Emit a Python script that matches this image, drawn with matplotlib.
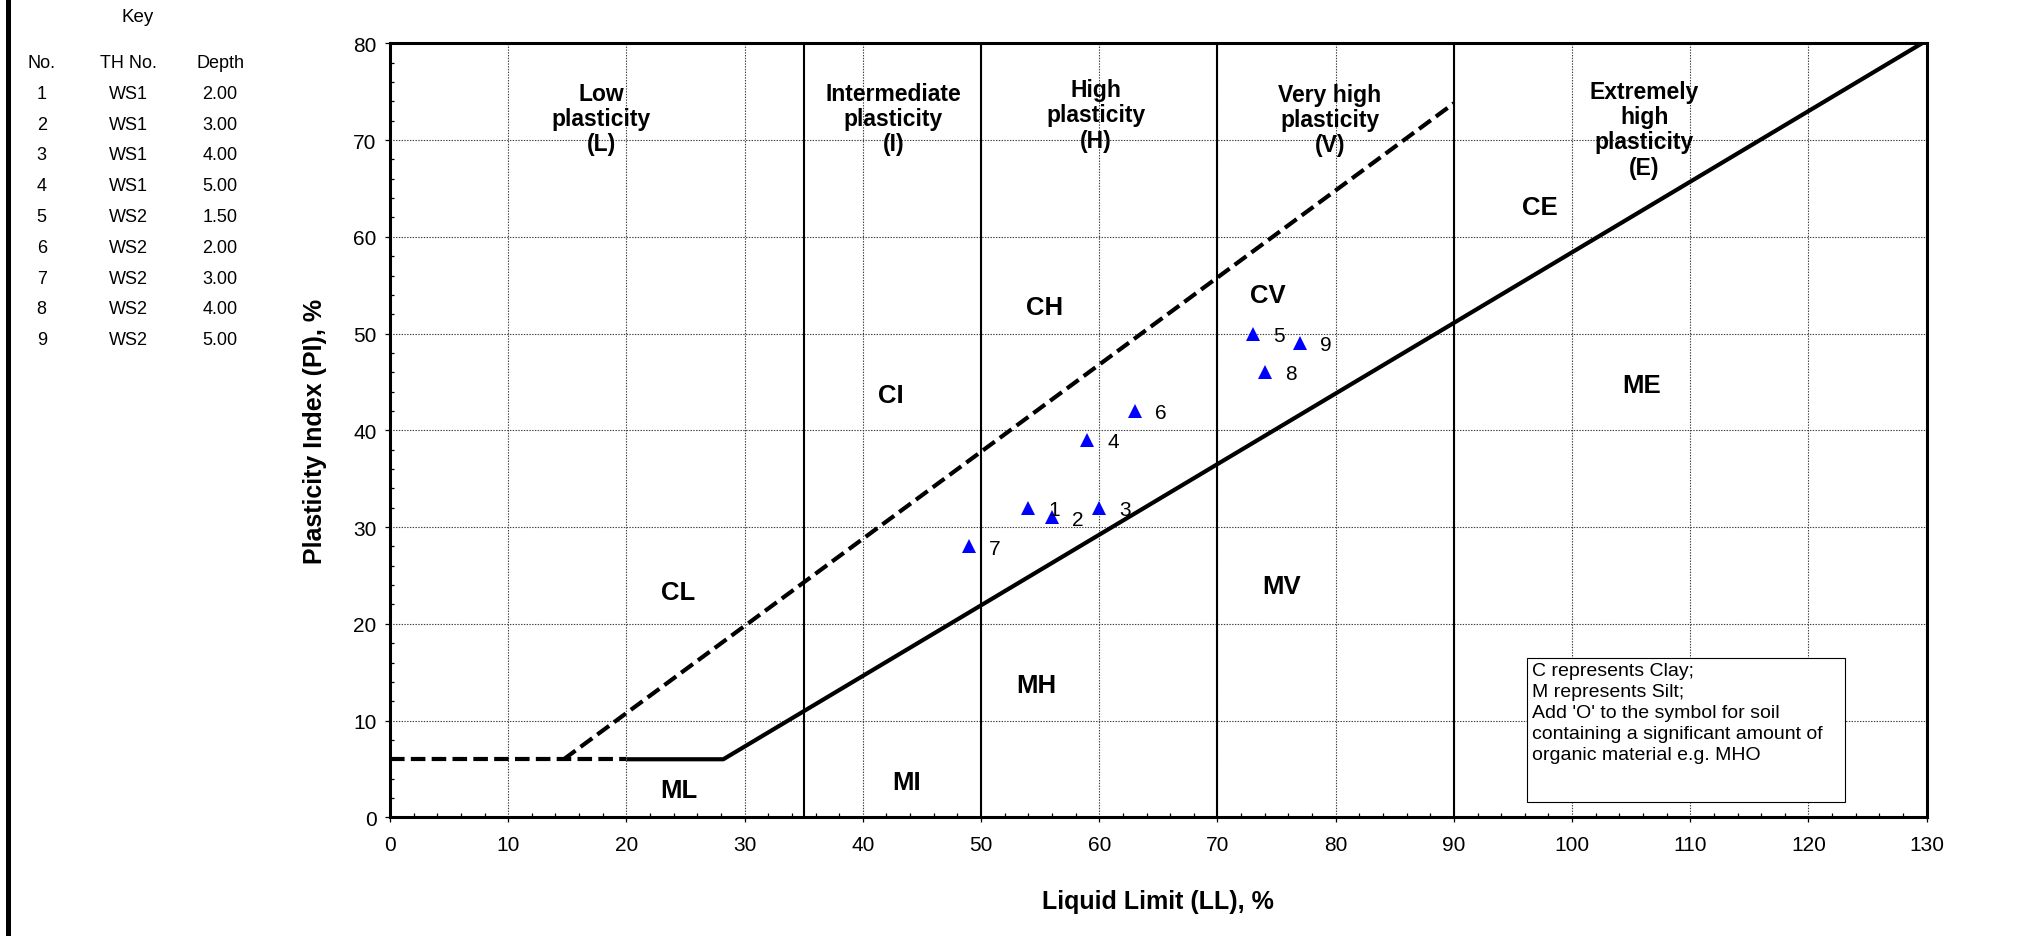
import matplotlib
matplotlib.use("Agg")
import matplotlib.pyplot as plt
from matplotlib.patches import Rectangle
from matplotlib.ticker import MultipleLocator

plt.rcParams['font.family'] = ['Liberation Sans', 'DejaVu Sans']
plt.rcParams['lines.scale_dashes'] = False

# --- sample key ---
sample_no = [1, 2, 3, 4, 5, 6, 7, 8, 9]
borehole = ['WS1', 'WS1', 'WS1', 'WS1', 'WS2', 'WS2', 'WS2', 'WS2', 'WS2']
depth = ['2.00', '3.00', '4.00', '5.00', '1.50', '2.00', '3.00', '4.00', '5.00']

# --- test results ---
liquid_limit = [54, 56, 60, 59, 73, 63, 49, 74, 77]
plasticity_index = [32, 31, 32, 39, 50, 42, 28, 46, 49]

# --- chart boundaries ---
zone_bounds = [35, 50, 70, 90]
a_line_ll = [20, 28.2, 129.6]
a_line_pi = [6, 6, 80]
u_line_ll = [14.7, 90]
u_line_pi = [6, 73.8]
low_ll = [0, 20]
low_pi = [6, 6]

plasticity_labels = ['Low\nplasticity\n(L)', 'Intermediate\nplasticity\n(I)',
                     'High\nplasticity\n(H)', 'Very high\nplasticity\n(V)',
                     'Extremely\nhigh\nplasticity\n(E)']
plasticity_ll = [17.9, 42.6, 59.7, 79.5, 106.1]
plasticity_pi = [72.2, 72.2, 72.6, 72.1, 71.1]

soil_symbols = ['CL', 'ML', 'CI', 'MI', 'CH', 'MH', 'CV', 'MV', 'CE', 'ME']
symbol_ll = [24.4, 24.4, 42.4, 43.7, 55.4, 54.7, 74.3, 75.4, 97.3, 105.9]
symbol_pi = [23.3, 2.8, 43.6, 3.7, 52.7, 13.7, 54.0, 23.9, 63.1, 44.7]

note_text = ("C represents Clay;\nM represents Silt;\nAdd 'O' to the symbol for soil\n"
             "containing a significant amount of\norganic material e.g. MHO")

W, H = 2038, 937
fig = plt.figure(figsize=(W / 100, H / 100), dpi=100)
ax_left, ax_right, ax_top, ax_bottom = 390, 1926.7, 44.3, 818.3
ax = fig.add_axes([ax_left / W, 1 - ax_bottom / H, (ax_right - ax_left) / W,
                   (ax_bottom - ax_top) / H])

ax.set_xlim(0, 130)
ax.set_ylim(0, 80)
ax.xaxis.set_major_locator(MultipleLocator(10))
ax.xaxis.set_minor_locator(MultipleLocator(2))
ax.yaxis.set_major_locator(MultipleLocator(10))
ax.yaxis.set_minor_locator(MultipleLocator(2))
ax.tick_params(which='major', direction='out', length=3.6, width=0.9,
               labelsize=15, pad=6)
ax.tick_params(axis='x', which='major', pad=9.5)
ax.tick_params(which='minor', direction='in', length=3.2, width=0.9)
ax.grid(True, which='major', color='#404040', linestyle=(0, (1, 1)), linewidth=0.8,
        zorder=0)
ax.set_axisbelow(True)
for sp in ax.spines.values():
    sp.set_linewidth(2.2)

# zone boundaries
for b in zone_bounds:
    ax.plot([b, b], [0, 80], color='black', lw=1.5, zorder=2)

# A-line and U-line
ax.plot(a_line_ll, a_line_pi, color='black', lw=3, zorder=3, solid_capstyle='butt')
ax.plot(u_line_ll, u_line_pi, color='black', lw=3, dashes=(10.5, 4.5), zorder=3)
ax.plot(low_ll, low_pi, color='black', lw=3, dashes=(10.5, 4.5), zorder=3)

# zone titles and symbols
for t, x, y in zip(plasticity_labels, plasticity_ll, plasticity_pi):
    ax.text(x, y, t, ha='center', va='center', multialignment='center',
            fontsize=16.5, fontweight='bold', linespacing=1.12, zorder=4)
for t, x, y in zip(soil_symbols, symbol_ll, symbol_pi):
    ax.text(x, y, t, ha='center', va='center', fontsize=18.5, fontweight='bold',
            zorder=4)

# test points
ax.plot(liquid_limit, plasticity_index, linestyle='none', marker='^', markersize=10,
        color='#0000FF', markeredgewidth=0, zorder=6, clip_on=False)
for n, x, y in zip(sample_no, liquid_limit, plasticity_index):
    ax.annotate(str(n), (x, y), xytext=(14.5, -1.2), textcoords='offset points',
                ha='left', va='center', fontsize=15, zorder=6)

# note box
ax.add_patch(Rectangle((96.2, 1.6), 26.9, 14.9, facecolor='white', edgecolor='black',
                       lw=0.8, zorder=5))
ax.text(96.6, 16.0, note_text, ha='left', va='top', fontsize=14, linespacing=1.3,
        zorder=6)

ax.set_xlabel('Liquid Limit (LL), %', fontsize=18, fontweight='bold')
ax.set_ylabel('Plasticity Index (PI), %', fontsize=18, fontweight='bold')
ax.xaxis.label.set_va('center')
ax.yaxis.label.set_va('center')
ax.xaxis.set_label_coords(0.5, (ax_bottom - 901.7) / (ax_bottom - ax_top))
ax.yaxis.set_label_coords((315 - ax_left) / (ax_right - ax_left), 0.5)

# key table
def fx(px):
    return px / W

def fy(py):
    return 1 - py / H

fig.text(fx(138), fy(18), 'Key', ha='center', va='center', fontsize=13.5)
col_x = [41.7, 128, 220]
for h, cx in zip(['No.', 'TH No.', 'Depth'], col_x):
    fig.text(fx(cx), fy(63), h, ha='center', va='center', fontsize=13)
for i, (n, b, d) in enumerate(zip(sample_no, borehole, depth)):
    ry = 94.3 + i * 30.8
    for val, cx in zip([str(n), b, d], col_x):
        fig.text(fx(cx), fy(ry), val, ha='center', va='center', fontsize=13)

# left frame edge
fig.add_artist(Rectangle((6 / W, 0), 5 / W, 1, transform=fig.transFigure,
                         facecolor='black', edgecolor='none'))

fig.savefig('out.png', dpi=100)
